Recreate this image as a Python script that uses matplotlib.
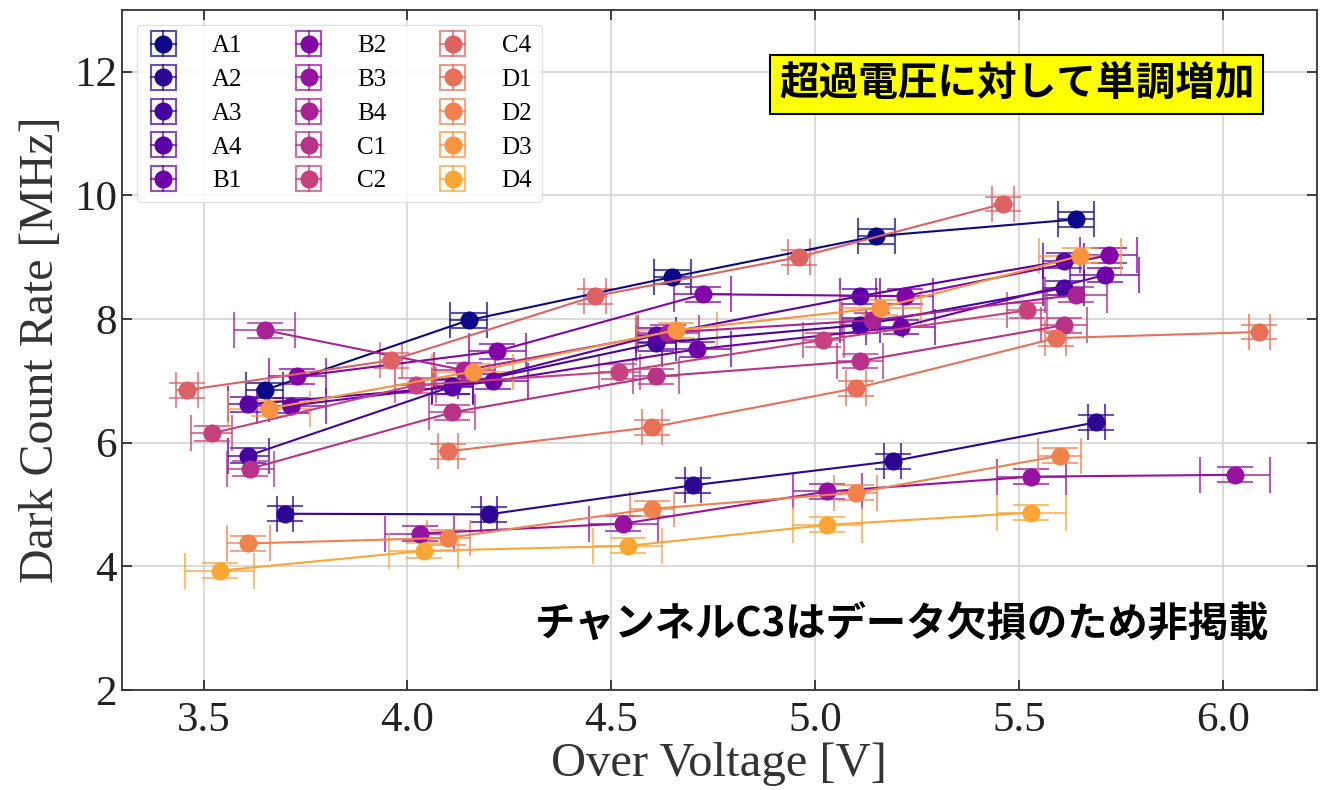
import matplotlib
matplotlib.use('Agg')
import matplotlib.pyplot as plt
from matplotlib.container import ErrorbarContainer
from matplotlib.legend_handler import HandlerBase
from matplotlib.patches import Rectangle
from matplotlib.lines import Line2D
import numpy as np

# channel labels (C3 missing)
channels = ['A1', 'A2', 'A3', 'A4', 'B1', 'B2', 'B3', 'B4',
            'C1', 'C2', 'C4', 'D1', 'D2', 'D3', 'D4']

# over voltage [V] per channel
ov = [
    [3.65, 4.15, 4.65, 5.15, 5.64],
    [3.70, 4.20, 4.70, 5.19, 5.69],
    [3.61, 4.11, 4.61, 5.11, 5.61],
    [3.61, 4.11, 4.61, 5.11, 5.61],
    [3.715, 4.21, 4.71, 5.21, 5.71],
    [3.73, 4.22, 4.725, 5.22, 5.72],
    [4.03, 4.53, 5.03, 5.53, 6.03],
    [3.65, 4.14, 4.64, 5.14, 5.64],
    [3.615, 4.11, 4.61, 5.11, 5.61],
    [3.52, 4.02, 4.52, 5.02, 5.52],
    [3.46, 3.96, 4.46, 4.96, 5.46],
    [4.10, 4.60, 5.10, 5.59, 6.09],
    [3.61, 4.10, 4.60, 5.10, 5.60],
    [3.66, 4.16, 4.66, 5.16, 5.65],
    [3.54, 4.04, 4.54, 5.03, 5.53],
]

# dark count rate [MHz] per channel
dcr = [
    [6.85, 7.98, 8.68, 9.34, 9.61],
    [4.85, 4.84, 5.31, 5.70, 6.33],
    [5.79, 6.91, 7.61, 7.90, 8.50],
    [6.62, 6.90, 7.74, 8.37, 8.94],
    [6.60, 6.99, 7.51, 7.87, 8.71],
    [7.07, 7.48, 8.40, 8.37, 9.03],
    [4.53, 4.69, 5.21, 5.45, 5.48],
    [7.82, 7.17, 7.78, 7.98, 8.39],
    [5.58, 6.49, 7.07, 7.32, 7.90],
    [6.15, 6.93, 7.15, 7.66, 8.14],
    [6.85, 7.33, 8.37, 9.00, 9.86],
    [5.86, 6.25, 6.88, 7.69, 7.79],
    [4.37, 4.46, 4.93, 5.19, 5.79],
    [6.55, 7.15, 7.82, 8.18, 9.02],
    [3.93, 4.25, 4.33, 4.67, 4.87],
]

# over voltage uncertainty [V] per channel
ov_err = [0.045, 0.02, 0.05, 0.05, 0.085, 0.07, 0.085, 0.075,
          0.057, 0.05, 0.027, 0.025, 0.053, 0.10, 0.085]
dcr_err = 0.12


class SquareErrHandler(HandlerBase):
    """legend handle: marker inside a square made by the error caps"""
    def create_artists(self, legend, orig_handle, xdescent, ydescent,
                       width, height, fontsize, trans):
        color = orig_handle.lines[0].get_color()
        cx = width / 2 - xdescent
        cy = height / 2 - ydescent
        s = 0.5 * fontsize
        kw = dict(color=color, lw=1.5, alpha=0.7, transform=trans)
        box = Rectangle((cx - s, cy - s), 2 * s, 2 * s, fill=False,
                        ec=color, lw=1.5, alpha=0.7, transform=trans)
        hl = Line2D([cx - s, cx + s], [cy, cy], **kw)
        vl = Line2D([cx, cx], [cy - s, cy + s], **kw)
        mk = Line2D([cx], [cy], marker='o', ms=12, ls='', color=color,
                    transform=trans)
        return [box, hl, vl, mk]


plt.rcParams['font.family'] = ['Liberation Serif', 'DejaVu Serif']

fig = plt.figure(figsize=(13.2, 7.9), dpi=100)
ax = fig.add_axes([0.0924, 0.1266, 0.905, 0.861])

# 16 colours for A1..D4, C3 skipped
cmap = plt.get_cmap('plasma')
all_cols = cmap(np.linspace(0, 0.8, 16))
cols = [c for i, c in enumerate(all_cols) if i != 10]

for i, ch in enumerate(channels):
    ax.errorbar(ov[i], dcr[i], xerr=ov_err[i], yerr=dcr_err, fmt='o-',
                color=cols[i], ms=12, lw=1.5, elinewidth=1.5, capsize=13,
                capthick=1.5, label=ch, ecolor=(*cols[i][:3], 0.7))

ax.set_xlim(3.3, 6.23)
ax.set_ylim(2, 13)
ax.set_xticks([3.5, 4.0, 4.5, 5.0, 5.5, 6.0])
ax.set_yticks([2, 4, 6, 8, 10, 12])
ax.grid(True, color='#d4d4d4', lw=1.2)
ax.set_axisbelow(True)
ax.tick_params(direction='in', top=True, right=True, length=7, width=1.2,
               labelsize=31, colors='#222222')
ax.tick_params(axis='x', pad=8)
for s in ax.spines.values():
    s.set_linewidth(1.3)
    s.set_color('#333333')

ax.set_xlabel('Over Voltage [V]', fontsize=35, color='#333333', labelpad=2)
ax.set_ylabel('Dark Count Rate [MHz]', fontsize=34.5, color='#333333', labelpad=8)

leg = ax.legend(loc='upper left', ncol=3, fontsize=18, frameon=True,
                fancybox=True, framealpha=0.85, edgecolor='#dddddd',
                handlelength=1.3, columnspacing=2.0, handletextpad=1.3,
                labelspacing=0.45, borderaxespad=0.6,
                handler_map={ErrorbarContainer: SquareErrHandler()})

ax.text(0.948, 0.89, '超過電圧に対して単調増加', transform=ax.transAxes,
        ha='right', va='center', fontsize=28.5, fontweight='bold',
        family=['Noto Sans CJK JP', 'DejaVu Sans'],
        bbox=dict(boxstyle='square,pad=0.22', fc='#ffff00', ec='black', lw=1.5))
ax.text(0.96, 0.096, 'チャンネルC3はデータ欠損のため非掲載', transform=ax.transAxes,
        ha='right', va='center', fontsize=29, fontweight='bold',
        family=['Noto Sans CJK JP', 'DejaVu Sans'])

fig.savefig('out.png', dpi=100, facecolor='white')
